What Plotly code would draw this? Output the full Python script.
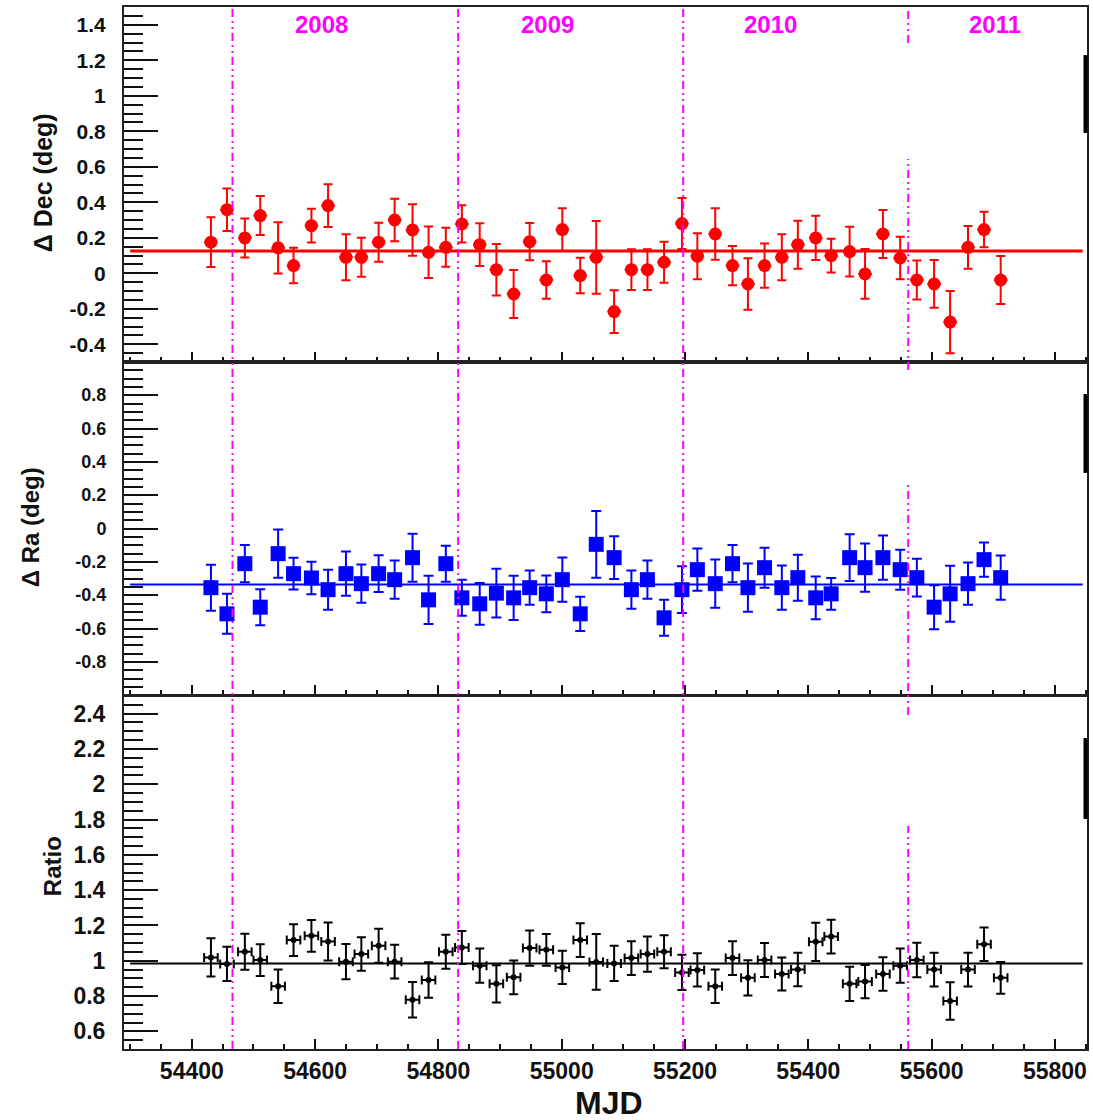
import plotly.graph_objects as go

# Monthly bins (MJD bin centres) and half bin width
mjd = [54431, 54457, 54486, 54511, 54540, 54565, 54594, 54621, 54650, 54675,
       54703, 54729, 54758, 54784, 54812, 54838, 54867, 54894, 54922, 54948,
       54975, 55001, 55030, 55056, 55085, 55113, 55139, 55166, 55195, 55220,
       55249, 55277, 55302, 55329, 55357, 55383, 55412, 55437, 55467, 55492,
       55521, 55549, 55576, 55604, 55630, 55659, 55685, 55712]
mjd_half_width = 11

# Declination offset (deg)
dec = [0.175, 0.358, 0.199, 0.325, 0.143, 0.043, 0.268, 0.381, 0.090, 0.090,
       0.175, 0.300, 0.244, 0.118, 0.146, 0.278, 0.161, 0.020, -0.117, 0.178,
       -0.038, 0.246, -0.013, 0.090, -0.216, 0.020, 0.020, 0.062, 0.280, 0.096,
       0.221, 0.043, -0.060, 0.043, 0.090, 0.161, 0.199, 0.099, 0.122, -0.004,
       0.221, 0.086, -0.038, -0.060, -0.275, 0.146, 0.246, -0.038]
dec_err = [0.140, 0.120, 0.110, 0.110, 0.145, 0.100, 0.095, 0.120, 0.130, 0.110,
           0.110, 0.120, 0.145, 0.145, 0.110, 0.105, 0.120, 0.145, 0.135, 0.105,
           0.105, 0.120, 0.100, 0.205, 0.120, 0.115, 0.115, 0.115, 0.144, 0.130,
           0.145, 0.110, 0.145, 0.125, 0.130, 0.135, 0.125, 0.095, 0.140, 0.140,
           0.135, 0.120, 0.110, 0.135, 0.175, 0.120, 0.100, 0.135]

# Right ascension offset (deg)
ra = [-0.355, -0.512, -0.211, -0.472, -0.151, -0.271, -0.297, -0.367, -0.271, -0.331,
      -0.271, -0.307, -0.175, -0.428, -0.211, -0.416, -0.452, -0.388, -0.416, -0.355,
      -0.392, -0.307, -0.512, -0.095, -0.175, -0.367, -0.307, -0.536, -0.367, -0.247,
      -0.331, -0.211, -0.355, -0.235, -0.355, -0.295, -0.416, -0.392, -0.175, -0.235,
      -0.175, -0.247, -0.295, -0.472, -0.392, -0.331, -0.187, -0.295]
ra_err = [0.138, 0.120, 0.112, 0.108, 0.145, 0.095, 0.097, 0.120, 0.133, 0.115,
          0.110, 0.115, 0.144, 0.145, 0.108, 0.108, 0.125, 0.146, 0.133, 0.103,
          0.110, 0.133, 0.103, 0.200, 0.128, 0.115, 0.115, 0.108, 0.140, 0.127,
          0.145, 0.112, 0.145, 0.120, 0.133, 0.138, 0.128, 0.095, 0.140, 0.145,
          0.133, 0.120, 0.113, 0.132, 0.168, 0.127, 0.103, 0.133]

# Rate ratio
ratio = [1.019, 0.982, 1.051, 1.004, 0.855, 1.117, 1.141, 1.109, 0.995, 1.038,
         1.085, 0.995, 0.779, 0.891, 1.051, 1.075, 0.972, 0.869, 0.906, 1.072,
         1.062, 0.962, 1.117, 0.993, 0.985, 1.015, 1.038, 1.051, 0.934, 0.948,
         0.855, 1.015, 0.903, 1.004, 0.925, 0.950, 1.107, 1.137, 0.869, 0.882,
         0.925, 0.972, 1.004, 0.950, 0.772, 0.950, 1.094, 0.903]
ratio_err = [0.108, 0.097, 0.102, 0.090, 0.095, 0.090, 0.090, 0.108, 0.100, 0.095,
             0.097, 0.095, 0.100, 0.100, 0.097, 0.093, 0.097, 0.105, 0.096, 0.100,
             0.090, 0.094, 0.096, 0.158, 0.100, 0.096, 0.100, 0.094, 0.100, 0.094,
             0.095, 0.096, 0.100, 0.096, 0.094, 0.095, 0.108, 0.096, 0.097, 0.094,
             0.095, 0.097, 0.098, 0.096, 0.106, 0.096, 0.095, 0.090]

# Constant fits
fit_range = [54300, 55845]
dec_fit = 0.125
ra_fit = -0.336
ratio_fit = 0.985

# Year boundaries (1 Jan) and labels
year_starts = [54466, 54832, 55197, 55562]
year_labels = ["2008", "2009", "2010", "2011"]
year_label_mjd = [54611, 54977, 55339, 55702]

dec_ticks = [-0.4, -0.2, 0, 0.2, 0.4, 0.6, 0.8, 1, 1.2, 1.4]
ra_ticks = [-0.8, -0.6, -0.4, -0.2, 0, 0.2, 0.4, 0.6, 0.8]
ratio_ticks = [0.6, 0.8, 1, 1.2, 1.4, 1.6, 1.8, 2, 2.2, 2.4]

W, H = 1093, 1120
ML, MR, MT, MB = 124, 4, 7, 71
plot_h = H - MT - MB


def py(y_px):
    """Convert a page y position to paper coordinates."""
    return (H - MB - y_px) / plot_h


def px(x_px):
    return (x_px - ML) / (W - ML - MR)


BOLD = dict(family="Liberation Sans, Arial, sans-serif", weight="bold", color="#111")

fig = go.Figure()

# Fits drawn first, then the data
fig.add_trace(go.Scatter(x=fit_range, y=[dec_fit, dec_fit], mode="lines",
                         line=dict(color="#ff0000", width=3), xaxis="x", yaxis="y"))
fig.add_trace(go.Scatter(x=mjd, y=dec, mode="markers", xaxis="x", yaxis="y",
                         marker=dict(symbol="circle", size=13, color="#ff0000"),
                         error_y=dict(type="data", array=dec_err, color="#ff0000",
                                      thickness=2, width=4.5),
                         error_x=dict(type="constant", value=mjd_half_width,
                                      color="#ff0000", thickness=2, width=0)))

fig.add_trace(go.Scatter(x=fit_range, y=[ra_fit, ra_fit], mode="lines",
                         line=dict(color="#0000ff", width=2), xaxis="x2", yaxis="y2"))
fig.add_trace(go.Scatter(x=mjd, y=ra, mode="markers", xaxis="x2", yaxis="y2",
                         marker=dict(symbol="square", size=15, color="#0000ff"),
                         error_y=dict(type="data", array=ra_err, color="#0000ff",
                                      thickness=2, width=5)))

fig.add_trace(go.Scatter(x=fit_range, y=[ratio_fit, ratio_fit], mode="lines",
                         line=dict(color="#000000", width=2), xaxis="x3", yaxis="y3"))
fig.add_trace(go.Scatter(x=mjd, y=ratio, mode="markers", xaxis="x3", yaxis="y3",
                         marker=dict(symbol="circle", size=6, color="#000000"),
                         error_y=dict(type="data", array=ratio_err, color="#000000",
                                      thickness=2, width=4.5),
                         error_x=dict(type="constant", value=mjd_half_width,
                                      color="#000000", thickness=2, width=4.5)))

x_common = dict(
    range=[54290, 55852], tickmode="linear", tick0=54400, dtick=200,
    ticks="inside", ticklen=10, tickwidth=1.5, tickcolor="#111",
    minor=dict(tickmode="linear", tick0=54300, dtick=50, ticks="inside",
               ticklen=5, tickwidth=1.5, tickcolor="#111"),
    showline=True, linecolor="#222", linewidth=2, mirror=True,
    showgrid=False, zeroline=False, tickformat="d",
)


def y_axis(rng, vals, domain, font_size, minor_tick0):
    return dict(
        range=rng, domain=domain, tickmode="array", tickvals=vals,
        ticktext=[f"{v:g}" for v in vals],
        ticks="inside", ticklen=34, tickwidth=1.5, tickcolor="#111",
        minor=dict(tickmode="linear", tick0=minor_tick0, dtick=0.05, ticks="inside",
                   ticklen=19, tickwidth=1.5, tickcolor="#111"),
        showline=True, linecolor="#222", linewidth=2, mirror=True,
        showgrid=False, zeroline=False, ticklabelstandoff=12,
        tickfont=dict(size=font_size, **BOLD),
    )


top_dom = [py(362), 1.0]
mid_dom = [py(695), py(362)]
bot_dom = [0.0, py(696)]

fig.update_layout(
    width=W, height=H, autosize=False,
    margin=dict(l=ML, r=MR, t=MT, b=MB),
    paper_bgcolor="white", plot_bgcolor="white",
    showlegend=False,
    xaxis=dict(**x_common, anchor="y", showticklabels=False),
    xaxis2=dict(**x_common, anchor="y2", matches="x", showticklabels=False),
    xaxis3=dict(**x_common, anchor="y3", matches="x", showticklabels=True,
                ticklabelstandoff=0, tickfont=dict(size=23, **BOLD)),
    yaxis=y_axis([-0.5, 1.5], dec_ticks, top_dom, 21, 0),
    yaxis2=y_axis([-0.999, 0.999], ra_ticks, mid_dom, 18, 0),
    yaxis3=y_axis([0.5, 2.5], ratio_ticks, bot_dom, 23, 0.5),
)

# Year boundaries
MAGENTA = "#ff00ff"
year_dash = "8px,4px,2px,4px,2px,4px"
for x0 in year_starts[:3]:
    fig.add_shape(type="line", xref="x", yref="paper", x0=x0, x1=x0, y0=0, y1=1,
                  line=dict(color=MAGENTA, width=2, dash=year_dash), layer="above")
for y_top, y_bot in [(7, 43), (159, 370), (485, 715), (826, 1049)]:
    fig.add_shape(type="line", xref="x", yref="paper",
                  x0=year_starts[3], x1=year_starts[3], y0=py(y_bot), y1=py(y_top),
                  line=dict(color=MAGENTA, width=2, dash=year_dash), layer="above")

for label, xm in zip(year_labels, year_label_mjd):
    fig.add_annotation(x=xm, xref="x", y=py(24), yref="paper", text=label,
                       showarrow=False, xanchor="center", yanchor="middle",
                       font=dict(size=24, family="Liberation Sans, Arial, sans-serif",
                                 weight="bold", color=MAGENTA))

# Box edges at the right-hand border
for y_top, y_bot in [(55, 133), (394, 473), (738, 819)]:
    fig.add_shape(type="line", xref="paper", yref="paper", x0=px(1087.5), x1=px(1087.5),
                  y0=py(y_bot), y1=py(y_top), line=dict(color="#000", width=4))

# Axis titles
for text, xp, yp, size in [("Δ Dec (deg)", 43, 183, 25),
                           ("Δ Ra (deg)", 30, 527, 24),
                           ("Ratio", 52, 866, 24)]:
    fig.add_annotation(x=px(xp), y=py(yp), xref="paper", yref="paper", text=text,
                       textangle=-90, showarrow=False, xanchor="center", yanchor="middle",
                       font=dict(size=size, **BOLD))
fig.add_annotation(x=px(610), y=py(1103), xref="paper", yref="paper", text="MJD",
                   showarrow=False, xanchor="center", yanchor="middle",
                   font=dict(size=32, **BOLD))

fig.write_html("out.html", config={"displayModeBar": False})
